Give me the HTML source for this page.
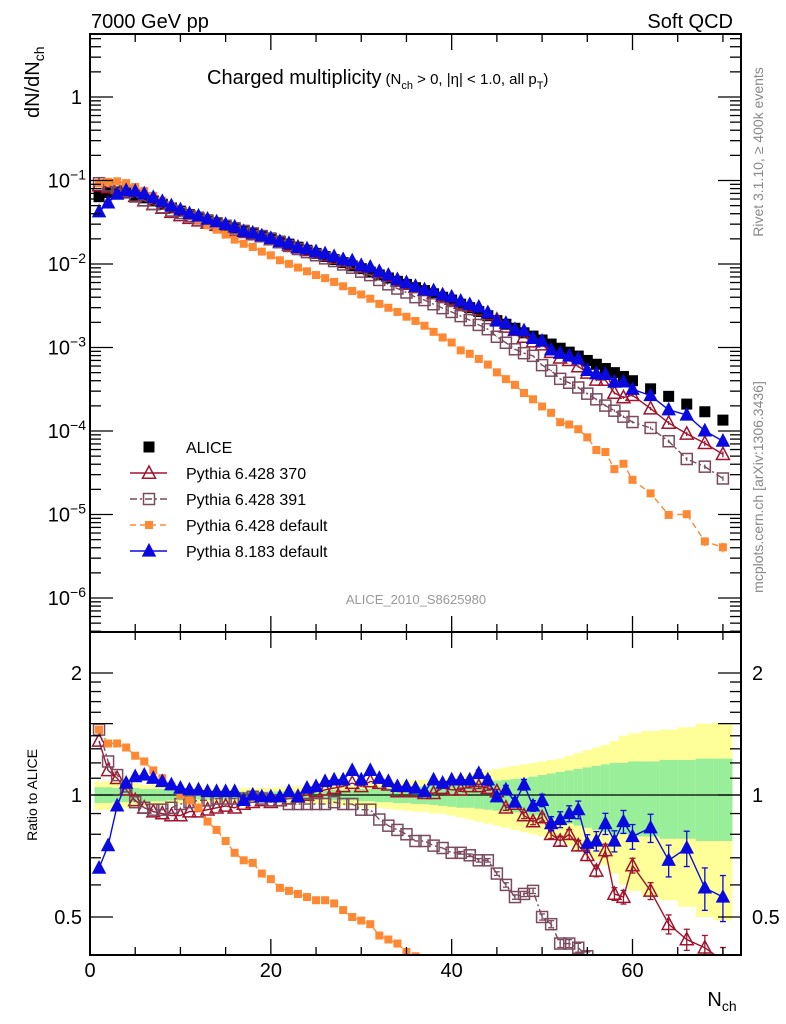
<!DOCTYPE html>
<html><head><meta charset="utf-8"><style>
html,body{margin:0;padding:0;background:#fff;width:786px;height:1024px;overflow:hidden;}
svg{display:block;font-family:"Liberation Sans",sans-serif;}
</style></head><body>
<svg id="chart" width="786" height="1024" viewBox="0 0 786 1024" xmlns="http://www.w3.org/2000/svg">
<defs>
<clipPath id="clipMain"><rect x="90" y="34" width="651" height="598"/></clipPath>
<clipPath id="clipRatio"><rect x="90" y="632" width="651" height="323"/></clipPath>
</defs>
<g id="bands" clip-path="url(#clipRatio)"></g>
<g id="series"></g>
<g id="axes"></g>
<text x="91" y="28" font-size="20">7000 GeV pp</text>
<text x="733" y="28" font-size="20" text-anchor="end">Soft QCD</text>
<text x="207" y="84" font-size="20">Charged multiplicity<tspan font-size="15" dx="4">(N</tspan><tspan font-size="11" dy="5">ch</tspan><tspan font-size="15" dy="-5"> &gt; 0, |η| &lt; 1.0, all p</tspan><tspan font-size="11" dy="5">T</tspan><tspan font-size="15" dy="-5">)</tspan></text>
<text transform="translate(39,118) rotate(-90)" font-size="20">dN/dN<tspan font-size="14" dy="5">ch</tspan></text>
<text transform="translate(37,795) rotate(-90)" font-size="14" text-anchor="middle">Ratio to ALICE</text>
<text x="722" y="1006" font-size="20" text-anchor="middle">N<tspan font-size="14" dy="5">ch</tspan></text>
<text transform="translate(763,152) rotate(-90)" font-size="14" fill="#888" text-anchor="middle">Rivet 3.1.10, ≥ 400k events</text>
<text transform="translate(763,487) rotate(-90)" font-size="14" fill="#888" text-anchor="middle">mcplots.cern.ch [arXiv:1306.3436]</text>
<text x="416" y="604" font-size="13" fill="#999" text-anchor="middle">ALICE_2010_S8625980</text>
<g id="legend"></g>
</svg>
<script>
const nch = [1,2,3,4,5,6,7,8,9,10,11,12,13,14,15,16,17,18,19,20,21,22,23,24,25,26,27,28,29,30,31,32,33,34,35,36,37,38,39,40,41,42,43,44,45,46,47,48,49,50,51,52,53,54,55,56,57,58,59,60,62,64,66,68,70];
const alice = [.064,.072,.073,.071,.067,.062,.057,.052,.047,.043,.039,.0364,.0338,.0314,.0292,.0272,.0253,.0235,.0220,.0205,.0188,.0173,.0159,.0146,.0134,.0123,.0113,.0104,.0095,.0088,.0080,.0074,.0068,.0062,.0057,.0052,.0048,.0044,.0040,.0037,.0033,.0030,.0027,.0024,.0021,.0019,.0017,.0015,.00137,.00123,.00110,.00098,.00088,.00079,.00070,.00063,.00056,.00050,.00045,.00040,.00032,.00026,.00021,.00017,.000135];
const ratio370 = [1.36,1.15,1.10,1.03,0.97,0.93,0.91,0.90,0.89,0.89,0.91,0.91,0.92,0.93,0.94,0.93,0.95,0.96,0.97,0.96,0.97,0.98,0.99,1.00,1.02,1.03,1.04,1.05,1.07,1.05,1.08,1.07,1.06,1.02,1.02,1.02,1.01,1.01,1.04,1.03,1.03,1.05,1.05,1.04,1.02,0.93,0.95,0.89,0.86,0.88,0.80,0.77,0.80,0.75,0.71,0.65,0.73,0.57,0.56,0.67,0.58,0.48,0.44,0.42,0.39];
const ratio391 = [1.45,1.21,1.12,1.05,0.96,0.93,0.92,0.92,0.93,0.95,0.96,0.97,0.97,0.98,0.98,0.98,0.98,0.99,0.98,0.97,0.97,0.95,0.95,0.95,0.95,0.95,0.96,0.95,0.95,0.92,0.92,0.87,0.84,0.82,0.80,0.77,0.77,0.75,0.74,0.72,0.72,0.71,0.69,0.69,0.64,0.60,0.56,0.57,0.58,0.50,0.48,0.43,0.43,0.42,0.40,0.38,0.36,0.35,0.33,0.32,0.34,0.29,0.22,0.22,0.20];
const ratioP6def = [1.45,1.34,1.34,1.31,1.25,1.21,1.15,1.10,1.05,1.00,0.97,0.93,0.86,0.82,0.77,0.72,0.69,0.68,0.64,0.62,0.59,0.58,0.57,0.56,0.55,0.55,0.54,0.52,0.50,0.49,0.48,0.45,0.44,0.43,0.41,0.40,0.38,0.35,0.33,0.31,0.28,0.28,0.27,0.26,0.24,0.22,0.21,0.19,0.175,0.16,0.15,0.13,0.136,0.133,0.12,0.094,0.10,0.07,0.09,0.065,0.056,0.038,0.048,0.028,0.030];
const ratioP8 = [.66,.75,.94,1.07,1.11,1.12,1.10,1.08,1.06,1.04,1.03,1.03,1.02,1.02,1.02,1.02,0.97,1.00,0.99,0.99,0.99,1.02,0.99,1.04,1.05,1.08,1.09,1.09,1.15,1.09,1.15,1.10,1.08,1.05,1.05,1.04,1.02,1.09,1.07,1.09,1.09,1.09,1.13,1.09,0.99,1.03,0.96,1.06,0.94,0.97,0.85,0.87,0.90,0.92,0.76,0.77,0.85,0.77,0.86,0.79,0.83,0.69,0.74,0.59,0.56];
const mcRelErr = [0,0,0,0,0,0,0,0,0,0,0,0,0,0,0,0,0,0,0,0,0,0,0,0,0,0,0,0,0,0,0,0,0,0,0,0,0,0,0,0,.015,.015,.02,.02,.02,.025,.025,.03,.03,.035,.04,.045,.045,.05,.05,.055,.06,.06,.065,.07,.08,.09,.10,.12,.13];
const yellowErr = [.08,.08,.08,.07,.07,.06,.06,.06,.05,.05,.045,.045,.04,.04,.04,.04,.04,.04,.04,.04,.045,.045,.05,.05,.05,.055,.055,.06,.06,.065,.07,.07,.075,.08,.085,.09,.09,.10,.10,.11,.12,.13,.14,.15,.16,.17,.18,.19,.20,.21,.22,.23,.25,.27,.29,.31,.33,.36,.40,.42,.44,.45,.47,.50,.51];
const greenErr = [.045,.045,.04,.04,.04,.035,.035,.035,.03,.03,.025,.025,.025,.025,.025,.025,.02,.02,.02,.02,.02,.02,.02,.025,.025,.025,.03,.03,.03,.035,.035,.04,.04,.045,.045,.05,.05,.055,.06,.065,.07,.07,.075,.08,.085,.09,.095,.10,.11,.12,.13,.14,.15,.16,.17,.18,.19,.20,.20,.21,.21,.22,.22,.23,.23];
const xTickLabels = [0,20,40,60];
const mainTickExp = [0,-1,-2,-3,-4,-5,-6];
const ratioTickLabels = [0.5,1,2];

const NS='http://www.w3.org/2000/svg';
const X0=90, X1=741, YT=34, YM=632, YB=955;
function xs(n){return X0 + n*(X1-X0)/72;}
function ym(v){return 97 - 83.5*Math.log10(v);}
function yr(r){return 795 - 122*Math.log2(r);}
function mk(tag, attrs, parent){const e=document.createElementNS(NS,tag);for(const k in attrs)e.setAttribute(k,attrs[k]);parent.appendChild(e);return e;}

const axes=document.getElementById('axes');
const bands=document.getElementById('bands');
const series=document.getElementById('series');
const legend=document.getElementById('legend');

function binEdges(i){const lo=i===0?nch[0]-0.5:(nch[i-1]+nch[i])/2;const hi=i===nch.length-1?nch[i]+1:(nch[i]+nch[i+1])/2;return [lo,hi];}
for(let i=0;i<nch.length;i++){
  const [lo,hi]=binEdges(i);
  const y=mk('rect',{x:xs(lo),y:yr(1+yellowErr[i]),width:xs(hi)-xs(lo)+0.5,height:yr(1-yellowErr[i])-yr(1+yellowErr[i]),fill:'#ffff99'},bands);
  
  
  const g=mk('rect',{x:xs(lo),y:yr(1+greenErr[i]),width:xs(hi)-xs(lo)+0.5,height:yr(1-greenErr[i])-yr(1+greenErr[i]),fill:'#99ee99'},bands);
  
  
}
const one=mk('line',{x1:X0,x2:X1,y1:yr(1),y2:yr(1),stroke:'#000','stroke-width':1.3},bands);



function marker(g,shape,x,y,s,color){
  let e;
  if(shape==='sq'||shape==='osq'){
    e=mk('rect',{x:x-s/2,y:y-s/2,width:s,height:s,fill:shape==='sq'?color:'none',stroke:shape==='sq'?'none':color,'stroke-width':1.5},g);
  } else {
    const h=s*0.9;
    e=mk('polygon',{points:`${x},${y-h*0.6} ${x-s/2},${y+h*0.45} ${x+s/2},${y+h*0.45}`,fill:shape==='tri'?color:'none',stroke:color,'stroke-width':1.5},g);
  }
  return e;
}

const mcDefs=[
 {name:'pythia-6-428-370',ratio:ratio370,color:'#a0142e',shape:'otri',size:13,dash:'',label:'Pythia 6.428 370',errScale:0.6},
 {name:'pythia-6-428-391',ratio:ratio391,color:'#7a4a5e',shape:'osq',size:11,dash:'7,3,2,3',label:'Pythia 6.428 391',errScale:0.5},
 {name:'pythia-6-428-default',ratio:ratioP6def,color:'#ff8833',shape:'sq',size:8,dash:'6,4',label:'Pythia 6.428 default',errScale:1},
 {name:'pythia-8-183-default',ratio:ratioP8,color:'#0a0ae0',shape:'tri',size:12,dash:'',label:'Pythia 8.183 default',errScale:1}
];

const gMainA=mk('g',{'clip-path':'url(#clipMain)'},series);


mcDefs.forEach(d=>{
  const gm=mk('g',{'clip-path':'url(#clipMain)'},series);
  
  
  const gr=mk('g',{'clip-path':'url(#clipRatio)'},series);
  
  
  const ptsM=[],ptsR=[];
  for(let i=0;i<nch.length;i++){
    const v=alice[i]*d.ratio[i];
    ptsM.push(xs(nch[i])+','+ym(v));
    ptsR.push(xs(nch[i])+','+yr(d.ratio[i]));
  }
  const lm=mk('polyline',{points:ptsM.join(' '),fill:'none',stroke:d.color,'stroke-width':1.4,'stroke-dasharray':d.dash},gm);
  
  
  const lr=mk('polyline',{points:ptsR.join(' '),fill:'none',stroke:d.color,'stroke-width':1.4,'stroke-dasharray':d.dash},gr);
  
  
  for(let i=0;i<nch.length;i++){
    const v=alice[i]*d.ratio[i], x=xs(nch[i]), er=mcRelErr[i]*d.errScale;
    if(er>0){
      const b1=mk('line',{x1:x,x2:x,y1:ym(v*(1+er)),y2:ym(v*(1-er)),stroke:d.color,'stroke-width':1.3},gm);
      
      
      const r=d.ratio[i];
      const b2=mk('line',{x1:x,x2:x,y1:yr(r*(1+er)),y2:yr(r*(1-er)),stroke:d.color,'stroke-width':1.3},gr);
      
      
      [yr(r*(1+er)),yr(r*(1-er))].forEach(yy=>{const c=mk('line',{x1:x-3,x2:x+3,y1:yy,y2:yy,stroke:d.color,'stroke-width':1.3},gr);
        
        });
    }
    const m1=marker(gm,d.shape,x,ym(v),d.size,d.color);
    
    
    const m2=marker(gr,d.shape,x,yr(d.ratio[i]),d.size,d.color);
    
    
  }
});
for(let i=0;i<nch.length;i++){
  const m=marker(gMainA,'sq',xs(nch[i]),ym(alice[i]),11,'#000');
  
  
}

[[YT,YM],[YM,YB]].forEach(([a,b],k)=>{
  const r=mk('rect',{x:X0,y:a,width:X1-X0,height:b-a,fill:'none',stroke:'#000','stroke-width':2},axes);
  
  
});
for(let n=0;n<=70;n+=5){
  const L=(n%20===0)?16:8;
  [[YT,1],[YM,-1],[YM,1],[YB,-1]].forEach(([y,dir])=>{
    const t=mk('line',{x1:xs(n),x2:xs(n),y1:y,y2:y+dir*L,stroke:'#000','stroke-width':1.3},axes);
    
    
  });
}
xTickLabels.forEach(n=>{
  const t=mk('text',{x:xs(n),y:977,'font-size':20,'text-anchor':'middle'},axes);
  t.textContent=n;
  
  
});
for(let e=-7;e<=0;e++){
  for(let m=1;m<=9;m++){
    const v=m*Math.pow(10,e), y=ym(v);
    if(y<YT||y>YM)continue;
    const L=m===1?23:11;
    [[X0,1],[X1,-1]].forEach(([x,dir])=>{
      const t=mk('line',{x1:x,x2:x+dir*L,y1:y,y2:y,stroke:'#000','stroke-width':1.3},axes);
      
      
    });
  }
}
mainTickExp.forEach(e=>{
  const t=mk('text',{x:82,y:ym(Math.pow(10,e))+7,'font-size':20,'text-anchor':'end'},axes);
  
  
  if(e===0){t.textContent='1';}
  else{t.textContent='10';const s=document.createElementNS(NS,'tspan');s.setAttribute('dy','-8');s.setAttribute('font-size','14');s.textContent='−'+(-e);t.appendChild(s);t.setAttribute('x',86);}
});
[0.5,0.6,0.7,0.8,0.9,1,1.1,1.2,1.3,1.4,1.5,1.6,1.7,1.8,1.9,2].forEach(r=>{
  const y=yr(r); const major=(r===0.5||r===1||r===1.5||r===2);
  [[X0,1],[X1,-1]].forEach(([x,dir])=>{
    const t=mk('line',{x1:x,x2:x+dir*(major?23:11),y1:y,y2:y,stroke:'#000','stroke-width':1.3},axes);
    
    
  });
});
ratioTickLabels.forEach(r=>{
  [[82,'end'],[752,'start']].forEach(([x,a])=>{
    const t=mk('text',{x:x,y:yr(r)+7,'font-size':20,'text-anchor':a},axes);
    t.textContent=r;
    
    
  });
});

const legRows=[{label:'ALICE',shape:'sq',color:'#000',size:11,dash:'',line:false,name:'alice'}].concat(mcDefs.map(d=>({label:d.label,shape:d.shape,color:d.color,size:d.size,dash:d.dash,line:true,name:d.name})));
legRows.forEach((r,i)=>{
  const y=447+i*26;
  const g=mk('g',{},legend);
  
  
  if(r.line){mk('line',{x1:130,x2:167,y1:y,y2:y,stroke:r.color,'stroke-width':1.4,'stroke-dasharray':r.dash},g);}
  marker(g,r.shape,149,y,r.size,r.color);
  const t=mk('text',{x:186,y:y+6,'font-size':16},g);
  t.textContent=r.label;
});
</script>
</body></html>
